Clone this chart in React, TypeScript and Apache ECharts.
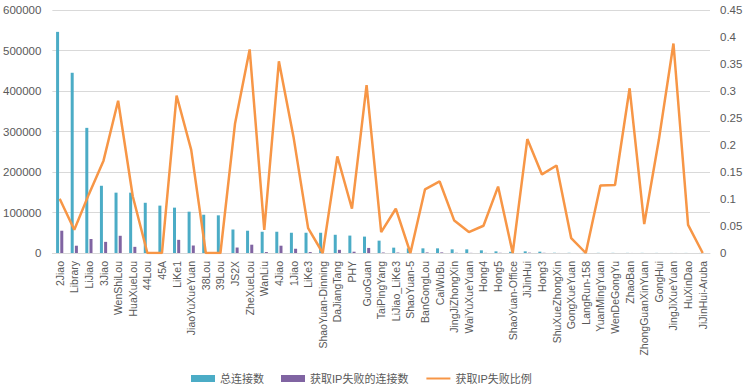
import React, { useEffect, useRef } from "react";
import * as echarts from "echarts";

const categories = [
  "2Jiao", "Library", "LiJiao", "3Jiao", "WenShiLou", "HuaXueLou", "44Lou", "45A", "LiKe1",
  "JiaoYuXueYuan", "38Lou", "39Lou", "JS2X", "ZheXueLou", "WanLiu", "4Jiao", "1Jiao", "LiKe3",
  "ShaoYuan-Dinning", "DaJiangTang", "PHY", "GuoGuan", "TaiPingYang", "LiJiao_LiKe3", "ShaoYuan-5",
  "BanGongLou", "CaiWuBu", "JingJiZhongXin", "WaiYuXueYuan", "Hong4", "Hong5", "ShaoYuan-Office",
  "JiJinHui", "Hong3", "ShuXueZhongXin", "GongXueYuan", "LangRun-158", "YuanMingYuan", "WenDeGongYu",
  "ZhaoBan", "ZhongGuanXinYuan", "GongHui", "JingJiXueYuan", "HuXinDao", "JiJinHui-Aruba",
];

const totalConnections = [
  546000, 445000, 309000, 166000, 149000, 149000, 124000, 117000, 112000,
  102000, 94500, 93000, 58000, 55000, 52500, 52500, 50000, 50000,
  50000, 45000, 43000, 40500, 30500, 13200, 11500,
  11500, 11500, 9000, 9000, 6600, 4100, 3300,
  4100, 3300, 600, 500, 400, 400, 350,
  300, 300, 250, 200, 200, 150,
];

const failedConnections = [
  55000, 18000, 34600, 27500, 42500, 15200, 0, 0, 32500,
  18500, 0, 0, 13500, 20500, 2300, 18000, 10500, 2300,
  0, 7800, 3200, 12500, 1200, 1100, 0,
  1350, 1500, 540, 350, 330, 500, 0,
  870, 480, 100, 14, 0, 50, 44,
  90, 16, 52, 78, 10, 0,
];

const failRate = [
  0.1005, 0.043, 0.109, 0.171, 0.282, 0.105, 0, 0, 0.2916,
  0.191, 0, 0, 0.24, 0.377, 0.043, 0.355, 0.215, 0.046,
  0, 0.179, 0.082, 0.311, 0.0388, 0.082, 0,
  0.118, 0.1325, 0.06, 0.0388, 0.0505, 0.123, 0,
  0.211, 0.1455, 0.162, 0.0277, 0, 0.125, 0.126,
  0.305, 0.0536, 0.2096, 0.388, 0.052, 0,
];

const leftTicks = { min: 0, max: 600000, interval: 100000 };
const rightTicks = { min: 0, max: 0.45, interval: 0.05 };

const FONT = "'Liberation Sans', 'Noto Sans CJK SC', sans-serif";
const GRAY = "#595959";

export default function App() {
  const ref = useRef<HTMLDivElement>(null);
  useEffect(() => {
    if (!ref.current) return;
    const chart = echarts.init(ref.current, undefined, { renderer: "svg" });
    chart.setOption({
      animation: false,
      textStyle: { fontFamily: FONT },
      grid: { left: 52, right: 37, top: 10, bottom: 138, containLabel: false },
      legend: {
        left: 186,
        top: 368,
        itemWidth: 24,
        itemHeight: 7,
        itemGap: 17,
        textStyle: { fontSize: 11, color: GRAY, fontFamily: FONT },
        data: [
          { name: "总连接数", icon: "rect" },
          { name: "获取IP失败的连接数", icon: "rect" },
          { name: "获取IP失败比例", itemStyle: { opacity: 0 } },
        ],
      },
      xAxis: {
        type: "category",
        data: categories,
        axisLine: { show: true, lineStyle: { color: "#D9D9D9", width: 1 } },
        axisTick: { show: false },
        axisLabel: { rotate: 90, interval: 0, fontSize: 10.5, color: GRAY, margin: 8, fontFamily: FONT },
      },
      yAxis: [
        {
          type: "value",
          ...leftTicks,
          axisLine: { show: false },
          axisTick: { show: false },
          axisLabel: {
            fontSize: 11.5,
            color: GRAY,
            margin: 11,
            fontFamily: FONT,
            formatter: (v: number) => String(v),
          },
          splitLine: { lineStyle: { color: "#D9D9D9", width: 1 } },
        },
        {
          type: "value",
          ...rightTicks,
          axisLine: { show: false },
          axisTick: { show: false },
          axisLabel: {
            fontSize: 11.5,
            color: GRAY,
            margin: 10,
            fontFamily: FONT,
            formatter: (v: number) => String(Math.round(v * 100) / 100),
          },
          splitLine: { show: false },
        },
      ],
      series: [
        {
          name: "总连接数",
          type: "bar",
          data: totalConnections,
          barWidth: 3,
          barGap: "40%",
          itemStyle: { color: "#4BACC6" },
        },
        {
          name: "获取IP失败的连接数",
          type: "bar",
          data: failedConnections,
          barWidth: 3,
          itemStyle: { color: "#8064A2" },
        },
        {
          name: "获取IP失败比例",
          type: "line",
          yAxisIndex: 1,
          data: failRate,
          showSymbol: false,
          symbol: "none",
          lineStyle: { color: "#F79646", width: 2.5 },
          itemStyle: { color: "#F79646" },
        },
      ],
    });
    return () => chart.dispose();
  }, []);
  return (
    <div
      ref={ref}
      style={{ position: "fixed", left: 0, top: 0, width: 747, height: 391, background: "#fff" }}
    />
  );
}
